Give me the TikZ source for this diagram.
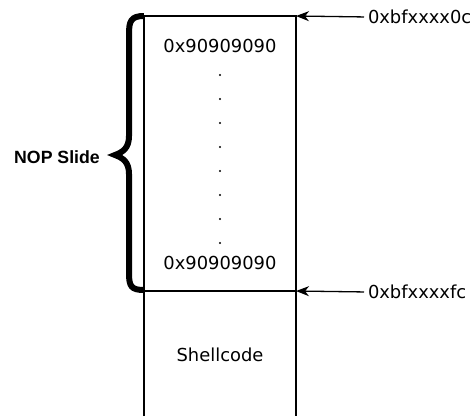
\documentclass[tikz,border=0pt]{standalone}
\usepackage{fontspec}
\setmainfont{DejaVu Sans}
\newfontfamily\slidefont{Liberation Sans}
\usetikzlibrary{arrows.meta}
\tikzset{
  memtext/.style={font=\fontsize{17.9}{21}\selectfont},
  sidetext/.style={font=\slidefont\bfseries\fontsize{17.7}{21}\selectfont},
  addrarrow/.style={draw=black,line width=1.3pt,shorten <=4pt,
    -{Stealth[length=13pt,width=10pt,inset=4pt]}},
}

\begin{document}
\begin{tikzpicture}[y=1pt,x=1pt,yscale=-1, inner sep=0pt, outer sep=0pt]
  \useasboundingbox (0,0) rectangle (473,416);
  \coordinate (stackTL) at (144,16);
  \coordinate (stackTR) at (296,16);
  \coordinate (stackML) at (144,291);
  \coordinate (stackMR) at (296,291);
  \coordinate (stackBL) at (144,416);
  \coordinate (stackBR) at (296,416);
      \path[draw=black,line width=1.3pt] (stackBL) -- (stackTL) -- (stackTR) -- (stackBR);
      \path[draw=black,line width=1.3pt] (stackML) -- (stackMR);
      \path[draw=black,line width=6pt,line join=miter]
        (144,16) .. controls (131,16) and (129,21) .. (129,34) -- (129,136)
        .. controls (129,148) and (123,152) .. (115,155)
        .. controls (123,158) and (129,162) .. (129,174) -- (129,273)
        .. controls (129,286) and (131,290) .. (144,290);
  \node[memtext] (nopTop) at (220,46) {0x90909090};
  \node[memtext] (nopBot) at (220,263) {0x90909090};
  \foreach \y in {75,99,...,243}
    \path[fill=black] (220,\y) circle (1.2pt);
  \node[memtext] (shell) at (220,355) {Shellcode};
  \node[sidetext] (slide) at (57,157) {NOP Slide};
  \node[memtext,anchor=west] (addrTop) at (368,17) {0xbfxxxx0c};
  \node[memtext,anchor=west] (addrBot) at (368,292) {0xbfxxxxfc};
  \path[addrarrow] (addrTop.west) -- (stackTR);
  \path[addrarrow] (addrBot.west) -- (stackMR);
\end{tikzpicture}
\end{document}
